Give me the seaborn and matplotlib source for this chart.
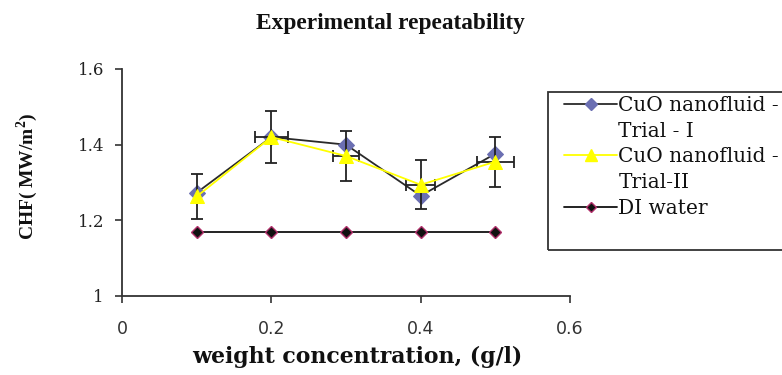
import matplotlib
matplotlib.use("Agg")
import matplotlib.pyplot as plt
import seaborn as sns
import pandas as pd
from matplotlib.lines import Line2D
from matplotlib.patches import Rectangle

# ---- data ----
conc = [0.1, 0.2, 0.3, 0.4, 0.5]
trial1 = [1.273, 1.420, 1.400, 1.265, 1.376]
trial2 = [1.263, 1.420, 1.370, 1.294, 1.355]
di_water = [1.17, 1.17, 1.17, 1.17, 1.17]
trial2_yerr = [0.060, 0.068, 0.065, 0.065, 0.066]
trial2_xerr = [0.0, 0.022, 0.017, 0.019, 0.025]

title = "Experimental repeatability"
xlabel = "weight concentration, (g/l)"
ylabel = "CHF( MW/m$^\\mathbf{2}$)"
xticks = [0, 0.2, 0.4, 0.6]
xticklabels = ["0", "0.2", "0.4", "0.6"]
yticks = [1.0, 1.2, 1.4, 1.6]
yticklabels = ["1", "1.2", "1.4", "1.6"]
legend_labels = ["CuO nanofluid -", "Trial - I", "CuO nanofluid -", "Trial-II", "DI water", " "]

sns.set_theme(style="ticks")
plt.rcParams["font.family"] = ["Liberation Serif", "DejaVu Serif"]
plt.rcParams["mathtext.fontset"] = "custom"
plt.rcParams["mathtext.rm"] = "Liberation Serif"
plt.rcParams["mathtext.bf"] = "Liberation Serif:bold"

W, H = 782, 375
fig = plt.figure(figsize=(W / 100, H / 100), dpi=100)
ax = fig.add_axes([122 / W, 1 - 296 / H, (570 - 122) / W, (296 - 69) / H])

df1 = pd.DataFrame({"x": conc, "y": trial1})
df2 = pd.DataFrame({"x": conc, "y": trial2})
dfw = pd.DataFrame({"x": conc, "y": di_water})

c_blue = "#6B6FB2"
c_yel = "#FFFF00"
c_line = "#2a2a2a"

sns.lineplot(data=dfw, x="x", y="y", ax=ax, color="#111111", lw=1.3,
             marker="D", markersize=6, markerfacecolor="#111111",
             markeredgecolor="#B0306A", markeredgewidth=1.0, zorder=3)
sns.lineplot(data=df1, x="x", y="y", ax=ax, color=c_line, lw=1.3,
             marker="D", markersize=8, markerfacecolor=c_blue,
             markeredgecolor=c_blue, zorder=4)
ax.errorbar(conc, trial2, yerr=trial2_yerr, xerr=trial2_xerr, fmt="none",
            ecolor="#222222", elinewidth=1.3, capsize=4.3, capthick=1.3, zorder=5)
sns.lineplot(data=df2, x="x", y="y", ax=ax, color=c_yel, lw=1.3,
             marker="^", markersize=10, markerfacecolor=c_yel,
             markeredgecolor=c_yel, zorder=6)

ax.set_xlim(0, 0.6)
ax.set_ylim(1.0, 1.6)
ax.set_xticks(xticks)
ax.set_xticklabels(xticklabels, fontsize=12.5, family="DejaVu Sans", color="#333333")
ax.set_yticks(yticks)
ax.set_yticklabels(yticklabels, fontsize=12, family="DejaVu Serif", color="#222222")
ax.tick_params(axis="both", direction="out", length=5, width=1.2, color="#333333")
ax.tick_params(axis="x", pad=12)
ax.tick_params(axis="y", pad=8)
for s in ["top", "right"]:
    ax.spines[s].set_visible(False)
for s in ["left", "bottom"]:
    ax.spines[s].set_linewidth(1.3)
    ax.spines[s].set_color("#333333")

ax.set_xlabel(xlabel, fontsize=15.8, fontweight="bold", family="DejaVu Serif",
              color="#111111")
ax.xaxis.set_label_coords((357 - 122) / 448, (296 - 346) / 227)
ax.set_ylabel(ylabel, fontsize=14, fontweight="bold", color="#111111")
ax.yaxis.set_label_coords((40 - 122) / 448, (296 - 176) / 227)

fig.text(390 / W, 1 - 23 / H, title, ha="center", va="center",
         fontsize=16.8, fontweight="bold", color="#111111")

# legend frame (extends past the right edge like the reference)
fig.patches.append(Rectangle((548 / W, 1 - 250 / H), (820 - 548) / W, (250 - 92) / H,
                             transform=fig.transFigure, fill=False,
                             edgecolor="#333333", lw=1.3))

blank = Line2D([], [], color="none")
h1 = Line2D([], [], color=c_line, lw=1.3, marker="D", markersize=6,
            markerfacecolor=c_blue, markeredgecolor=c_blue)
h2 = Line2D([], [], color=c_yel, lw=1.3, marker="^", markersize=8,
            markerfacecolor=c_yel, markeredgecolor=c_yel)
h3 = Line2D([], [], color="#111111", lw=1.3, marker="D", markersize=5,
            markerfacecolor="#111111", markeredgecolor="#B0306A")
handles = [h1, blank, h2, blank, h3, blank]
leg = fig.legend(handles, legend_labels, loc="upper left",
                 bbox_to_anchor=(564 / W, 1 - 96 / H),
                 prop={"family": "DejaVu Serif", "size": 14.5},
                 frameon=False, handlelength=2.65, handletextpad=0.05,
                 labelspacing=0.33, borderpad=0, borderaxespad=0)
for t in leg.get_texts():
    t.set_color("#111111")

fig.savefig("out.png", dpi=100)
